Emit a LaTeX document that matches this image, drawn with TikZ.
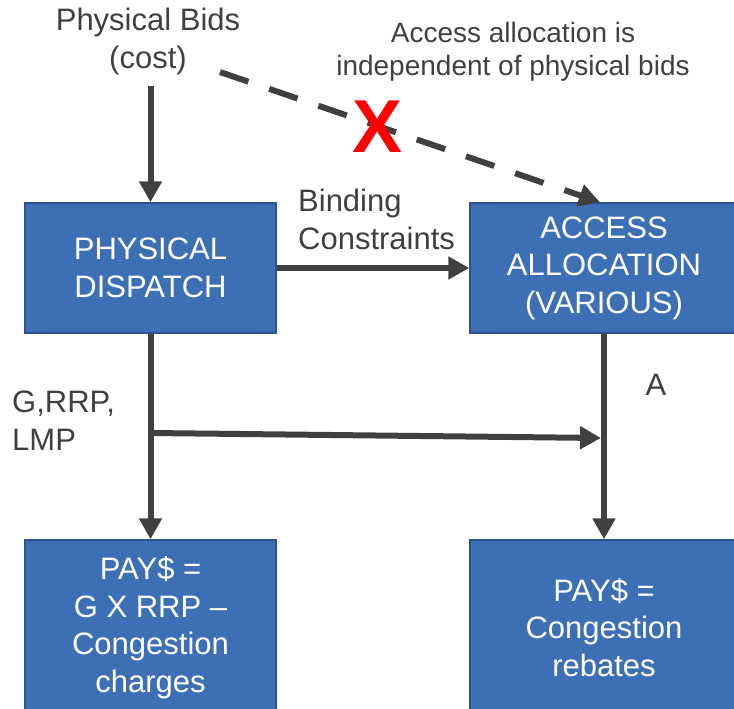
\documentclass[tikz,border=0pt]{standalone}
\usepackage{fontspec}
\setmainfont{Liberation Sans}
\usetikzlibrary{arrows.meta}
\definecolor{boxblue}{RGB}{61,111,181}
\definecolor{boxedge}{RGB}{47,82,143}
\definecolor{linegray}{RGB}{64,64,64}

\begin{document}
\begin{tikzpicture}[x=1pt,y=-1pt]
	\tikzstyle{every node}+=[inner sep=0pt]
	\tikzstyle{block}=[draw=boxedge,line width=1.5pt,fill=boxblue,text=white,align=center,font=\fontsize{31}{37.5}\selectfont]
	\tikzstyle{lbl}=[text=linegray,font=\fontsize{31}{38}\selectfont]
	\tikzstyle{arr}=[draw=linegray,line width=6pt,-{Triangle[length=21pt,width=22pt]}]
	\useasboundingbox (0,0) rectangle (734,709);
	\clip (0,0) rectangle (734,709);
	\node [block,minimum width=251pt,minimum height=130pt] (dispatch) at (150.5,268) {PHYSICAL\\DISPATCH};
	\node [block,minimum width=268pt,minimum height=130pt] (access) at (604,268) {ACCESS\\ALLOCATION\\(VARIOUS)};
	\node [block,minimum width=251pt,minimum height=175pt] (payg) at (150.5,627.5) {PAY\$ =\\G X RRP --\\Congestion\\charges};
	\node [block,minimum width=268pt,minimum height=175pt] (payr) at (604,627.5) {PAY\$ =\\Congestion\\rebates};
	\node [lbl,align=center] (bids) at (148,41) {Physical Bids\\(cost)};
	\node [lbl,align=center,font=\fontsize{28}{33}\selectfont] (note) at (513,52) {Access allocation is\\independent of physical bids};
	\node [lbl,align=left,anchor=west] (binding) at (298,219.5) {Binding\\Constraints};
	\node [lbl,align=left,anchor=west] (prices) at (12,421) {G,RRP,\\LMP};
	\node [lbl] (alloc) at (656,385) {A};
	\coordinate (dashstart) at (220,72);
	\coordinate (tap) at (150.5,433);
	\coordinate (meet) at (601,438);
	\draw [arr,shorten <=11pt] (bids.south -| dispatch.north) -- (dispatch.north);
	\draw [arr,dash pattern=on 30pt off 22pt] (dashstart) -- ([xshift=-4pt]access.north);
	\draw [arr] (dispatch.east) -- (access.west);
	\draw [arr] (dispatch.south) -- (payg.north);
	\draw [arr] (access.south) -- (payr.north);
	\draw [arr] (tap) -- (meet);
	\node [text=red,font=\fontsize{75}{75}\bfseries\selectfont] (cross) at (378,127) {X};
\end{tikzpicture}
\end{document}
